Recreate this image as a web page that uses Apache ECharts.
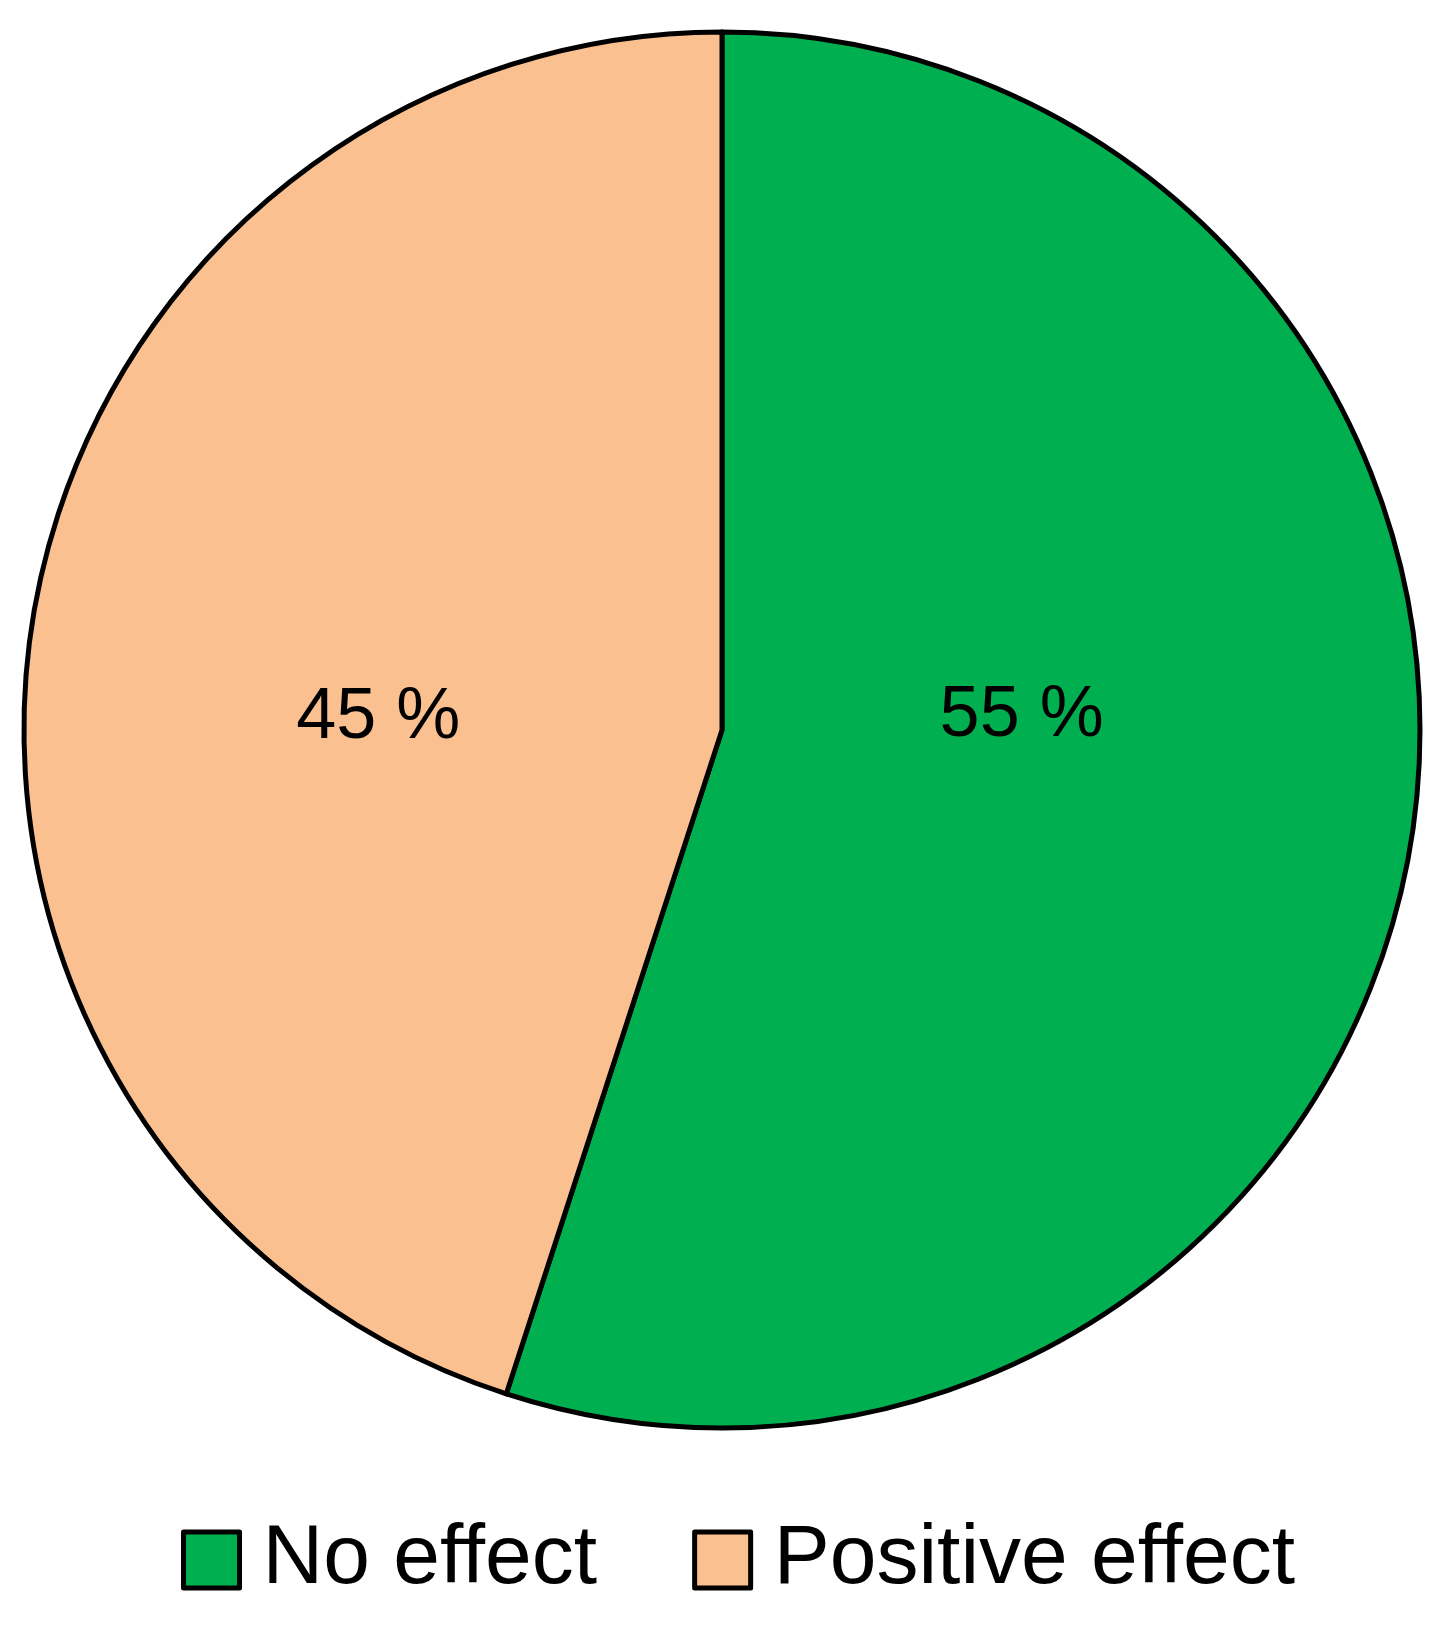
<!DOCTYPE html>
<html>
<head>
<meta charset="utf-8">
<script src="https://cdn.jsdelivr.net/npm/echarts@6/dist/echarts.min.js"></script>
<style>
  html, body { margin: 0; padding: 0; background: #fff; }
  #main { width: 1451px; height: 1637px; }
</style>
</head>
<body>
<div id="main"></div>
<script>
var categories = ["No effect", "Positive effect"];
var values = [55, 45];
var colors = ["#00B050", "#FAC090"];

var FONT = "'Liberation Sans Narrow', 'Arial Narrow', 'Liberation Sans', Arial, sans-serif";

var myChart = echarts.init(document.getElementById("main"));

// label offsets so the percentages sit where they do in the source
var labelOffsets = [[-48, -69], [4, 43]];

var pieData = [];
for (var i = 0; i < categories.length; i++) {
  pieData.push({
    name: categories[i],
    value: values[i],
    itemStyle: { color: colors[i] },
    label: { offset: labelOffsets[i] },
  });
}

var options = {
  animation: false,
  legend: {
    data: categories,
    left: 176,
    top: 1513,
    icon: "rect",
    itemWidth: 56,
    itemHeight: 56,
    itemGap: 95,
    itemStyle: { borderColor: "#000", borderWidth: 5 },
    textStyle: {
      fontFamily: FONT,
      fontSize: 84,
      color: "#000",
      padding: [0, 0, 0, 18],
    },
  },
  series: [
    {
      type: "pie",
      center: [722, 730],
      radius: [0, 698],
      startAngle: 90,
      clockwise: true,
      data: pieData,
      itemStyle: { borderColor: "#000", borderWidth: 5 },
      label: {
        show: true,
        position: "inside",
        formatter: "{c} %",
        fontFamily: FONT,
        fontSize: 72,
        color: "#000",
      },
      labelLine: { show: false },
      emphasis: { disabled: true },
    },
  ],
};
myChart.setOption(options);
</script>
</body>
</html>
